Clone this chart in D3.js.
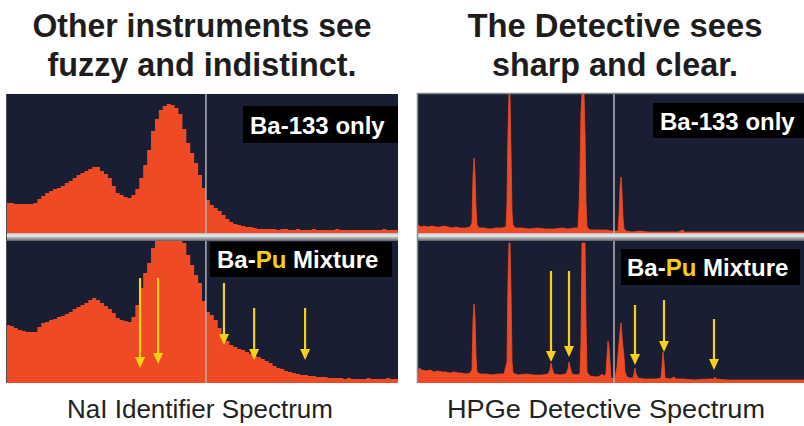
<!DOCTYPE html>
<html>
<head>
<meta charset="utf-8">
<script src="https://cdn.jsdelivr.net/npm/d3@7"></script>
<style>
  body { margin: 0; background: #fff; }
  svg { display: block; }
</style>
</head>
<body>
<svg id="chart" width="804" height="426"></svg>
<script>
// ---- data ----
// NaI spectrum, one value per channel (100 channels across the panel)
const naiTop = [30,30,29,29,29,29,29,30,34,37, 40,42,44,45,47,50,52,55,58,60,
  62,64,66,66,62,59,55,47,40,38, 36,35,38,44,55,68,83,102,114,123,
  127,129,128,125,119,104,90,80,70,58, 45,33,28,25,22,18,14,11,9,8,
  7,6,6,5,4,4,4,4,4,3, 4,4,3,3,4,3,3,3,4,3, 3,3,3,3,4,3,3,3,3,3, 3,3,3,3,3,3,4,3,3,3]
const naiBottom = [58,57,55,53,52,51,51,51,56,60, 61,63,64,66,67,69,71,74,76,78,
  80,83,85,83,80,77,74,70,65,63, 62,61,66,78,95,110,120,135,150,160,
  160,160,160,160,160,140,128,118,108,100, 82,71,68,63,55,47,42,38,36,34,
  33,31,29,27,26,24,22,20,17,15, 14,12,11,10,9,8,8,7,7,6, 6,6,5,5,5,5,4,5,4,4, 4,4,5,4,4,4,4,5,4,4]
const naiCursor = 51
// arrows: channel, top of shaft, tip (counts)
const naiArrows = [
  {ch: 34.2, from: 105, to: 15},
  {ch: 38.8, from: 105, to: 19},
  {ch: 55.6, from: 100, to: 38},
  {ch: 63.3, from: 75, to: 23},
  {ch: 76.3, from: 75, to: 23}
]

// HPGe spectrum, [channel, counts]
const hpgeTop = [[0,8],[3,6],[6,7],[10,6],[14,7],[18,6],[22,6],[26,7],[30,6],[34,5],[38,6],[42,5],
  [48,5],[52,6],[54,10],[55,55],[56,75],[57,60],[58,25],[59,8],[61,5],[66,5],[72,4],[78,5],[84,5],
  [88,6],[89,30],[90,100],[91,139],[92,138],[93,80],[94,20],[95,8],[97,5],[104,5],[112,4],[120,5],
  [128,4],[136,4],[144,5],[150,4],[156,5],[160,5],[161,25],[162,60],[163,120],[164,139],[166,139],
  [167,100],[168,30],[169,6],[172,3],[180,3],[188,3],[194,2],[196,2],[200,2],[201,18],[202,45],
  [203,56],[204,40],[205,15],[206,4],[208,2],[214,1],[222,2],[230,1],[240,1],[250,1],[260,1],
  [265,3],[266,1],[280,1],[300,1],[320,1],[340,1],[360,1],[386,1]]
const hpgeBottom = [[0,4],[1,14],[4,12],[8,11],[12,12],[16,10],[20,11],[24,10],[28,10],[32,9],
  [36,10],[40,9],[44,9],[48,8],[52,9],[54,12],[55,60],[56,78],[57,65],[58,25],[59,10],[62,8],
  [68,8],[74,7],[80,8],[86,8],[89,20],[90,100],[91,139],[92,139],[93,90],[94,20],[95,9],[100,7],
  [108,8],[116,7],[124,7],[130,8],[132,12],[133,19],[134,14],[136,8],[142,7],[148,8],[150,13],
  [151,20],[152,15],[154,8],[158,7],[162,8],[163,40],[164,139],[167,139],[168,60],[169,10],
  [172,6],[178,5],[182,6],[184,8],[186,6],[188,8],[189,25],[190,41],[191,35],[192,20],[193,5],
  [195,3],[197,4],[199,15],[202,50],[203,59],[204,45],[206,25],[207,10],[209,5],[212,4],[215,4],
  [216,8],[217,14],[218,8],[220,4],[226,3],[232,3],[238,3],[243,4],[244,15],[245,30],[246,20],
  [247,4],[252,3],[256,5],[258,3],[266,3],[276,2],[290,3],[296,3],[297,5],[298,3],[310,2],
  [330,2],[350,2],[370,2],[386,2]]
const hpgeCursor = 196
const hpgeArrows = [
  {ch: 133, from: 111, to: 20},
  {ch: 151, from: 111, to: 25},
  {ch: 217, from: 77, to: 17},
  {ch: 246, from: 82, to: 30},
  {ch: 296, from: 63, to: 12}
]

const titles = [
  ["Other instruments see", "fuzzy and indistinct."],
  ["The Detective sees", "sharp and clear."]
]
const captions = ["NaI Identifier Spectrum", "HPGe Detective Spectrum"]
const topLabel = "Ba-133 only"
const mixLabel = ["Ba-", "Pu", " Mixture"]

// ---- drawing ----
const svg = d3.select('#chart')
const red = '#ef4a23'
const navy = '#1a1e32'
const yellow = '#f7d117'

const defs = svg.append('defs')
const grad = defs.append('linearGradient')
  .attr('id', 'sep').attr('x1', 0).attr('x2', 0).attr('y1', 0).attr('y2', 1)
grad.append('stop').attr('offset', '0%').attr('stop-color', '#b9bbbb')
grad.append('stop').attr('offset', '35%').attr('stop-color', '#eeeeee')
grad.append('stop').attr('offset', '65%').attr('stop-color', '#a4a6a8')
grad.append('stop').attr('offset', '100%').attr('stop-color', '#5c6066')

const cols = [
  {x0: 6, x1: 398},
  {x0: 417, x1: 804}
]
const rows = [
  {y0: 94, y1: 233},
  {y0: 241, y1: 383}
]

function panel(col, row, id) {
  svg.append('rect')
    .attr('x', col.x0).attr('y', row.y0)
    .attr('width', col.x1 - col.x0).attr('height', row.y1 - row.y0)
    .attr('fill', navy)
  defs.append('clipPath').attr('id', id)
    .append('rect')
    .attr('x', col.x0).attr('y', row.y0)
    .attr('width', col.x1 - col.x0).attr('height', row.y1 - row.y0)
  return svg.append('g').attr('clip-path', `url(#${id})`)
}

function arrows(g, list, x, y) {
  list.forEach(a => {
    const ax = x(a.ch), ytop = y(a.from), ytip = y(a.to)
    g.append('line')
      .attr('x1', ax).attr('x2', ax)
      .attr('y1', ytop).attr('y2', ytip - 8)
      .attr('stroke', yellow).attr('stroke-width', 2.2)
    g.append('path')
      .attr('d', `M${ax - 5},${ytip - 11} L${ax + 5},${ytip - 11} L${ax},${ytip} Z`)
      .attr('fill', yellow)
  })
}

function cursor(g, xpos, row) {
  g.append('line')
    .attr('x1', xpos).attr('x2', xpos)
    .attr('y1', row.y0).attr('y2', row.y1)
    .attr('stroke', '#a9acb2').attr('stroke-width', 1.6)
}

function label(parts, bx, by, bw, bh, tx, ty) {
  svg.append('rect')
    .attr('x', bx).attr('y', by).attr('width', bw).attr('height', bh)
    .attr('fill', '#000')
  const t = svg.append('text')
    .attr('x', tx).attr('y', ty)
    .attr('font-family', 'Liberation Sans, Arial, sans-serif')
    .attr('font-weight', 'bold')
    .attr('font-size', 24)
    .attr('fill', '#fff')
  parts.forEach((p, i) => {
    t.append('tspan').text(p).attr('fill', i == 1 ? '#f5cf0f' : '#fff')
  })
}

// NaI panels
const xNai = d3.scaleLinear().domain([0, naiTop.length]).range([cols[0].x0, cols[0].x1])
const yNaiTop = d3.scaleLinear().domain([0, 139]).range([rows[0].y1, rows[0].y0])
const yNaiBot = d3.scaleLinear().domain([0, 142]).range([rows[1].y1, rows[1].y0])

function stepArea(values, y) {
  const pts = values.map((v, i) => [i, v]).concat([[values.length, values[values.length - 1]]])
  return d3.area()
    .x(d => xNai(d[0]))
    .y0(y(0))
    .y1(d => y(d[1]))
    .curve(d3.curveStepAfter)(pts)
}

const g1 = panel(cols[0], rows[0], 'c1')
g1.append('path').attr('d', stepArea(naiTop, yNaiTop)).attr('fill', red)
cursor(g1, xNai(naiCursor), rows[0])

const g2 = panel(cols[0], rows[1], 'c2')
g2.append('path').attr('d', stepArea(naiBottom, yNaiBot)).attr('fill', red)
cursor(g2, xNai(naiCursor), rows[1])
arrows(g2, naiArrows, xNai, yNaiBot)

// HPGe panels
const xHp = d3.scaleLinear().domain([0, 386]).range([cols[1].x0 + 1, cols[1].x1])
const yHpTop = d3.scaleLinear().domain([0, 139]).range([rows[0].y1, rows[0].y0])
const yHpBot = d3.scaleLinear().domain([0, 139]).range([rows[1].y1 - 1, rows[1].y0 + 2])

const hpArea = y => d3.area().x(d => xHp(d[0])).y0(y(0) + 2).y1(d => y(d[1]))

const g3 = panel(cols[1], rows[0], 'c3')
g3.append('path').attr('d', hpArea(yHpTop)(hpgeTop)).attr('fill', red)
  .attr('stroke', red).attr('stroke-width', 0.8)
cursor(g3, xHp(hpgeCursor), rows[0])

const g4 = panel(cols[1], rows[1], 'c4')
g4.append('path').attr('d', hpArea(yHpBot)(hpgeBottom)).attr('fill', red)
  .attr('stroke', red).attr('stroke-width', 0.8)
cursor(g4, xHp(hpgeCursor), rows[1])
arrows(g4, hpgeArrows, xHp, yHpBot)

// separators and frames
cols.forEach(c => {
  svg.append('rect')
    .attr('x', c.x0).attr('y', rows[0].y1)
    .attr('width', c.x1 - c.x0).attr('height', rows[1].y0 - rows[0].y1)
    .attr('fill', 'url(#sep)')
})
svg.append('line').attr('x1', 6.5).attr('x2', 6.5).attr('y1', 94).attr('y2', 383)
  .attr('stroke', '#4a4d55').attr('stroke-width', 1)
svg.append('path')
  .attr('d', `M417.5,383 V93.5 H804`)
  .attr('fill', 'none').attr('stroke', '#85878c').attr('stroke-width', 1.5)

// labels
label([topLabel], 243, 106, 155, 37, 250, 134)
label(mixLabel, 210, 242, 182, 35, 217, 268)
label([topLabel], 653, 103, 151, 35, 660, 130)
label(mixLabel, 621, 249, 179, 36, 627, 276)

// titles and captions (condensed face imitated by squeezing a wider font)
const titleCx = [202, 615]
const titleW = [[339, 309], [295, 246]]
titles.forEach((lines, c) => {
  lines.forEach((line, i) => {
    svg.append('text')
      .attr('x', titleCx[c]).attr('y', 37 + i * 39)
      .attr('text-anchor', 'middle')
      .attr('font-family', 'Liberation Sans, Arial, sans-serif')
      .attr('font-weight', 'bold')
      .attr('font-size', 33)
      .attr('fill', '#1f1c1d')
      .attr('textLength', titleW[c][i])
      .attr('lengthAdjust', 'spacingAndGlyphs')
      .text(line)
  })
})
const capCx = [200, 606]
const capW = [266, 318]
captions.forEach((t, c) => {
  svg.append('text')
    .attr('x', capCx[c]).attr('y', 418)
    .attr('text-anchor', 'middle')
    .attr('font-family', 'Liberation Sans, Arial, sans-serif')
    .attr('font-size', 26)
    .attr('fill', '#222')
    .attr('textLength', capW[c])
    .attr('lengthAdjust', 'spacingAndGlyphs')
    .text(t)
})
</script>
</body>
</html>
